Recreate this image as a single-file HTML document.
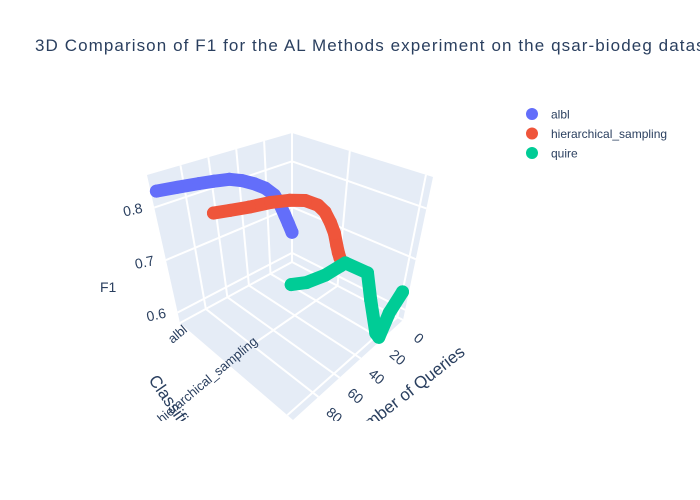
<!DOCTYPE html>
<html><head><meta charset="utf-8"><style>
html,body{margin:0;padding:0;background:#fff;}
svg{display:block;font-family:"Liberation Sans",sans-serif;}
</style></head><body>
<svg id="chart" width="700" height="500" viewBox="0 0 700 500" xmlns="http://www.w3.org/2000/svg">
<defs><clipPath id="sceneClip"><rect x="0" y="60" width="500" height="361"/></clipPath></defs>
<text x="35" y="51" font-size="17" fill="#2a3f5f" textLength="686" lengthAdjust="spacing">3D Comparison of F1 for the AL Methods experiment on the qsar-biodeg dataset</text>
<g id="scene" clip-path="url(#sceneClip)"></g>
<g id="legend"></g>
</svg>
<script>
const categories = ["albl", "hierarchical_sampling", "quire"];
const alblQueries = [0, 3, 6, 10, 14, 21, 29, 38, 47, 58, 69, 85, 100];
const alblF1 = [0.645, 0.667, 0.689, 0.718, 0.741, 0.763, 0.780, 0.795, 0.806, 0.812, 0.817, 0.823, 0.828];
const hierQueries = [0, 2, 4, 7, 11, 16, 22, 32, 44, 58, 74, 88, 100];
const hierF1 = [0.638, 0.652, 0.670, 0.700, 0.727, 0.755, 0.776, 0.797, 0.811, 0.822, 0.830, 0.838, 0.845];
const quireQueries = [0, 10, 17, 21, 31, 37, 57, 61, 73, 88, 100];
const quireF1 = [0.630, 0.607, 0.572, 0.587, 0.667, 0.727, 0.774, 0.774, 0.774, 0.781, 0.793];
const zTicks = [0.6, 0.7, 0.8];
const qTicks = [0, 20, 40, 60, 80];
const catLabelsShown = [true, true, false];
const colors = ["#636efa", "#EF553B", "#00cc96"];

const NS = "http://www.w3.org/2000/svg";
const scene = document.getElementById('scene');
const legend = document.getElementById('legend');
const B0=[292,262],B1=[292,133],L0=[180,323],L1=[147,175],R0=[403,320],R1=[433,177],F0=[293,420],F1c=[293,250];
const Q_MAX = 104, Z_MIN = 0.58, Z_MAX = 0.862;
const catPos = [0, 0.41, 0.95];
function bil(a,b,c,d,u,v,i){return a[i]+u*(b[i]-a[i])+v*(c[i]-a[i])+u*v*(d[i]-b[i]-c[i]+a[i]);}
function proj(u,v,w){
  const fx=bil(B0,L0,R0,F0,u,v,0), fy=bil(B0,L0,R0,F0,u,v,1);
  const tx=bil(B1,L1,R1,F1c,u,v,0), ty=bil(B1,L1,R1,F1c,u,v,1);
  return [fx+w*(tx-fx), fy+w*(ty-fy)];
}
const qU = q => q / Q_MAX;
const zW = z => (z - Z_MIN) / (Z_MAX - Z_MIN);
function mk(tag, attrs, parent){const e=document.createElementNS(NS,tag);for(const k in attrs)e.setAttribute(k,attrs[k]);parent.appendChild(e);return e;}
function poly(pts){return pts.map(p=>p[0].toFixed(1)+','+p[1].toFixed(1)).join(' ');}

const wallV = mk('polygon',{points:poly([proj(0,0,0),proj(1,0,0),proj(1,0,1),proj(0,0,1)]),fill:'#e5ecf6'},scene);


const wallU = mk('polygon',{points:poly([proj(0,0,0),proj(0,1,0),proj(0,1,1),proj(0,0,1)]),fill:'#e5ecf6'},scene);


const floor = mk('polygon',{points:poly([proj(0,0,0),proj(1,0,0),proj(1,1,0),proj(0,1,0)]),fill:'#e5ecf6'},scene);



function gl(a,b,name){
  const l=mk('line',{x1:a[0],y1:a[1],x2:b[0],y2:b[1],stroke:'#ffffff','stroke-width':2},scene);
  
  
}
zTicks.forEach(z=>{const w=zW(z);gl(proj(0,0,w),proj(1,0,w),'z-gridline');gl(proj(0,0,w),proj(0,1,w),'z-gridline');});
qTicks.forEach(q=>{const u=qU(q);gl(proj(u,0,0),proj(u,0,1),'q-gridline');gl(proj(u,0,0),proj(u,1,0),'q-gridline');});
catPos.forEach(v=>{gl(proj(0,v,0),proj(0,v,1),'class-gridline');gl(proj(0,v,0),proj(1,v,0),'class-gridline');});

zTicks.forEach(z=>{const p=proj(1,0,zW(z));
  const t=mk('text',{x:p[0]-12,y:p[1]+5,'text-anchor':'end','font-size':14,fill:'#2a3f5f',transform:`rotate(-12 ${p[0]-12} ${p[1]})`},scene);
  t.textContent=z.toFixed(1);
  
  });
qTicks.forEach(q=>{const p=proj(qU(q),1,0);const x=p[0]+16,y=p[1]+18;
  const t=mk('text',{x:x,y:y+5,'text-anchor':'middle','font-size':14,fill:'#2a3f5f',transform:`rotate(40 ${x} ${y})`},scene);
  t.textContent=q;
  
  });
categories.forEach((c,i)=>{if(!catLabelsShown[i])return;const p=proj(1,catPos[i],0);const x=p[0]+(i?32:8),y=p[1]+(i?-20:8);
  const t=mk('text',{x:x,y:y,'text-anchor':'end','font-size':13,fill:'#2a3f5f',transform:`rotate(-40 ${x} ${y})`},scene);
  t.textContent=c;
  
  });

const zt=mk('text',{x:100,y:292,'font-size':14,fill:'#2a3f5f'},scene);zt.textContent='F1';


const qt=mk('text',{x:466,y:354,'text-anchor':'end','font-size':17,fill:'#2a3f5f',transform:'rotate(-38 466 354)'},scene);qt.textContent='Number of Queries';


const ct=mk('text',{x:148,y:380,'font-size':17,fill:'#2a3f5f',transform:'rotate(55 148 380)'},scene);ct.textContent='Classifier';



function series(qs,fs,ci,name){
  const g=mk('g',{},scene);
  
  
  const pts=qs.map((q,i)=>proj(qU(q),catPos[ci],zW(fs[i])));
  const pl=mk('polyline',{points:poly(pts),fill:'none',stroke:colors[ci],'stroke-width':13,'stroke-linecap':'round','stroke-linejoin':'round'},g);
  
  
  pts.forEach(p=>{const c=mk('circle',{cx:p[0],cy:p[1],r:6.5,fill:colors[ci]},g);
    
    });
}
series(alblQueries,alblF1,0,'albl-series');
series(hierQueries,hierF1,1,'hierarchical-sampling-series');
series(quireQueries,quireF1,2,'quire-series');

categories.forEach((c,i)=>{const y=114+i*19.5;
  const d=mk('circle',{cx:532,cy:y,r:6,fill:colors[i]},legend);
  
  
  const t=mk('text',{x:551,y:y+4.5,'font-size':12,fill:'#2a3f5f'},legend);t.textContent=c;
  
  });
</script>
</body></html>
